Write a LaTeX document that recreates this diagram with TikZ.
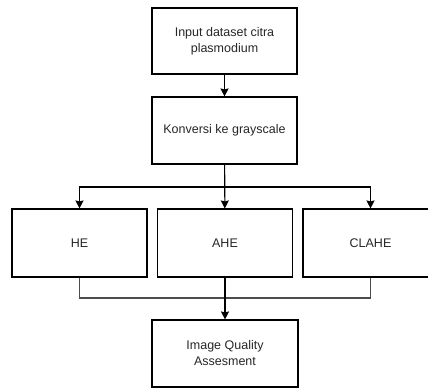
\documentclass[tikz,border=0pt]{standalone}
\usepackage{fontspec}
\setmainfont{Liberation Sans}
\usetikzlibrary{arrows.meta,positioning}

\begin{document}
\begin{tikzpicture}[x=1pt,y=-1pt,
   every node/.style={font=\fontsize{12.5}{16}\selectfont,text=black!85},
   procbox/.style={draw,line width=1.1pt,rectangle,align=center,inner sep=0pt},
   flow/.style={line width=1.1pt,-{Stealth[length=8pt,width=8pt,inset=1pt]}},
   mergeline/.style={line width=1.1pt,draw=black!70}]
\useasboundingbox (0,0) rectangle (428,389);
\node[procbox,minimum width=145pt,minimum height=66pt] (input) at (224.5,41) {Input dataset citra\\plasmodium};
\node[procbox,minimum width=145pt,minimum height=67pt] (gray) at (224.5,130.5) {Konversi ke grayscale};
\node[procbox,minimum width=135pt,minimum height=68pt] (he) at (79.5,243) {HE};
\node[procbox,minimum width=135pt,minimum height=68pt] (ahe) at (225,243) {AHE};
\node[procbox,minimum width=135pt,minimum height=68pt] (clahe) at (370.5,243) {CLAHE};
\node[procbox,minimum width=146pt,minimum height=67pt] (iqa) at (225,353.5) {Image Quality\\Assesment};
\coordinate (split) at (225,187);
\coordinate (merge) at (225,298);
\draw[flow] (input) -- (gray);
\draw[flow] (gray) -- (ahe);
\draw[flow] (split) -| (he);
\draw[flow] (split) -| (clahe);
\draw[mergeline] (he) |- (merge);
\draw[mergeline] (clahe) |- (merge);
\draw[flow] (ahe) -- (iqa);
\end{tikzpicture}
\end{document}
